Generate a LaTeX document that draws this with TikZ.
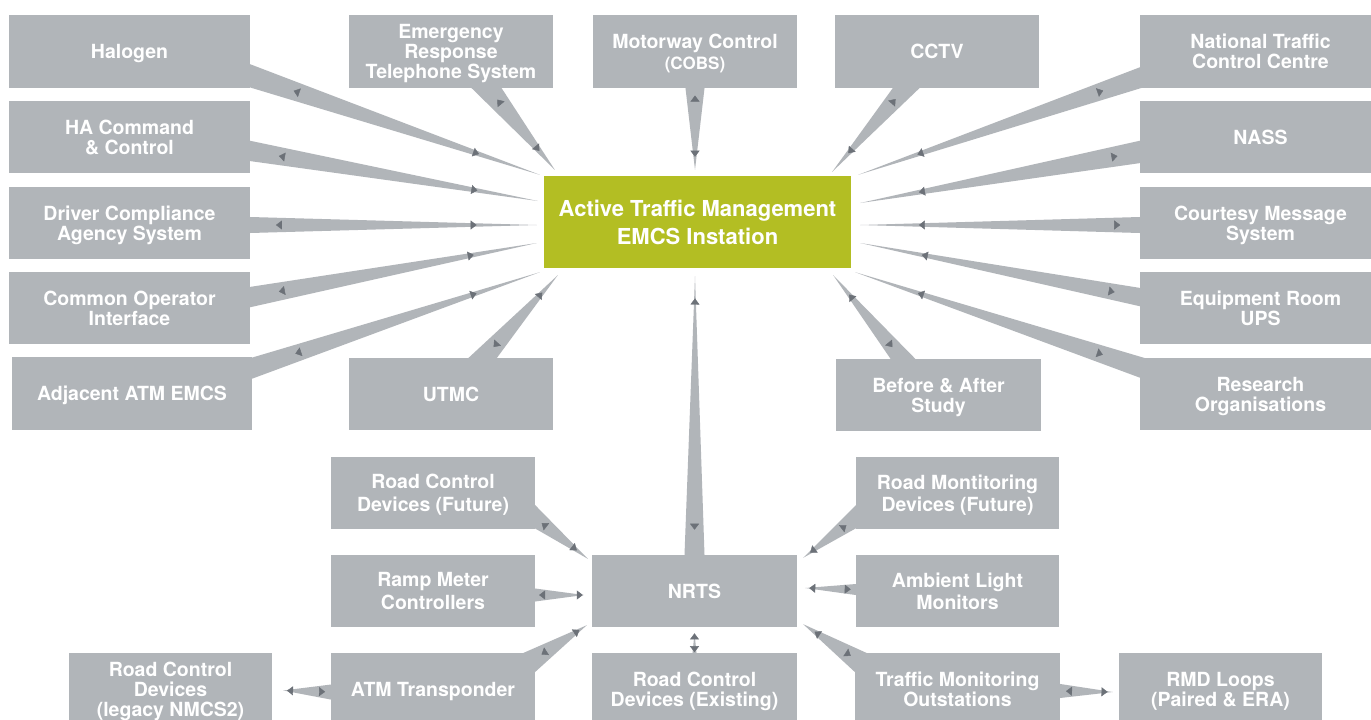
\documentclass[tikz,border=0pt]{standalone}
\usepackage{fontspec}
\setmainfont{TeX Gyre Heros}
\usetikzlibrary{calc,arrows.meta,decorations.markings}

\definecolor{boxgrey}{RGB}{177,181,185}
\definecolor{tipgrey}{RGB}{108,113,120}
\definecolor{hubgreen}{RGB}{179,190,35}

\pgfdeclarelayer{spokes}
\pgfsetlayers{spokes,main}

\tikzset{
  spoketip/.tip={Triangle[length=6pt,width=9pt,color=tipgrey,fill=tipgrey]},
  box/.style 2 args={fill=boxgrey, text=white, inner sep=0pt, align=center,
    minimum width=#1, minimum height=#2, text depth=0pt,
    font=\bfseries\fontsize{19.5}{20}\selectfont},
  loose/.style={font=\bfseries\fontsize{19.5}{22.5}\selectfont},
  hub/.style={fill=hubgreen, text=white, inner sep=0pt, align=center,
    minimum width=307pt, minimum height=92pt,
    font=\bfseries\fontsize{22}{28}\selectfont},
}

% tapered link: base (#1-b) on the source box, point (#1-t) at the target,
% half width #2 at the base, small heads at positions #3 and #4
\newcommand\spoke[4]{%
  \coordinate (#1-l) at ($(#1-b)!#2!90:(#1-t)$);
  \coordinate (#1-r) at ($(#1-b)!#2!-90:(#1-t)$);
  \fill[boxgrey] (#1-l) -- (#1-t) -- (#1-r) -- ($(#1-r)!-18pt!(#1-t)$)
    -- ($(#1-l)!-18pt!(#1-t)$) -- cycle;
  \path[draw=tipgrey, fill=tipgrey, decorate, decoration={markings,
      mark=at position #3 with {\arrowreversed{spoketip}},
      mark=at position #4 with {\arrow{spoketip}}}] (#1-b) -- (#1-t);
}

\begin{document}
\begin{tikzpicture}[x=1pt, y=-1pt]
\useasboundingbox (0,0) rectangle (1371,720);

% central instation
\node[hub] (hub) at (697.5,222) {Active Traffic Management\\EMCS Instation};

% left column
\node[box={241pt}{73pt}] (halogen) at (129.5,51.5) {Halogen};
\node[box={241pt}{72pt}] (hacmd) at (129.5,137) {HA Command\\\& Control};
\node[box={241pt}{72pt}] (driver) at (129.5,223) {Driver Compliance\\Agency System};
\node[box={241pt}{72pt}] (coi) at (129.5,308) {Common Operator\\Interface};
\node[box={240pt}{73pt}] (adjacent) at (132,393.5) {Adjacent ATM EMCS};

% inner columns, upper half
\node[box={204pt}{73pt}] (erts) at (451,51.5) {Emergency\\Response\\Telephone System};
\node[box={204pt}{72pt}] (utmc) at (451,394) {UTMC};
\node[box={204pt}{73pt}, font=\bfseries\fontsize{19.5}{21}\selectfont] (mcobs) at (695,51.5) {Motorway Control\\{\fontsize{17}{21}\selectfont(COBS)}};
\node[box={204pt}{73pt}] (cctv) at (937,51.5) {CCTV};
\node[box={205pt}{72pt}] (before) at (938.5,395) {Before \& After\\Study};

% right column
\node[box={241pt}{73pt}] (ntcc) at (1260.5,51.5) {National Traffic\\Control Centre};
\node[box={241pt}{72pt}] (nass) at (1260.5,137) {NASS};
\node[box={241pt}{72pt}] (cms) at (1260.5,223) {Courtesy Message\\System};
\node[box={241pt}{72pt}] (ups) at (1260.5,308) {Equipment Room\\UPS};
\node[box={241pt}{72pt}] (research) at (1260.5,394) {Research\\Organisations};

% roadside network
\node[box={205pt}{72pt}] (nrts) at (694.5,591) {NRTS};
\node[box={204pt}{72pt}, loose] (rcfut) at (433,493) {Road Control\\Devices (Future)};
\node[box={204pt}{72pt}, loose] (ramp) at (433,591) {Ramp Meter\\Controllers};
\node[box={204pt}{73pt}] (atmt) at (433,689.5) {ATM Transponder};
\node[box={203pt}{73pt}] (legacy) at (170.5,689.5) {Road Control\\Devices\\(legacy NMCS2)};
\node[box={205pt}{73pt}] (rcex) at (694.5,689.5) {Road Control\\Devices (Existing)};
\node[box={203pt}{72pt}, loose] (rmfut) at (957.5,493) {Road Montitoring\\Devices (Future)};
\node[box={203pt}{72pt}, loose] (ambient) at (957.5,591) {Ambient Light\\Monitors};
\node[box={205pt}{73pt}] (tmo) at (957.5,689.5) {Traffic Monitoring\\Outstations};
\node[box={203pt}{73pt}] (rmd) at (1220.5,689.5) {RMD Loops\\(Paired \& ERA)};

\begin{pgfonlayer}{spokes}
\fill[white] (0,0) rectangle (1371,720);

% links into the instation
\coordinate (halogen-b) at ($(halogen.east)+(0,24.5)$);
\coordinate (halogen-t) at ($(hub.north west)+(-4,-1)$);
\spoke{halogen}{11pt}{0.15}{0.79}
\coordinate (hacmd-b) at ($(hacmd.east)+(0,14)$);
\coordinate (hacmd-t) at ($(hub.west)+(-6,-21)$);
\spoke{hacmd}{10pt}{0.10}{0.79}
\coordinate (driver-b) at ($(driver.east)+(0,2)$);
\coordinate (driver-t) at ($(hub.west)+(-7,3)$);
\spoke{driver}{8pt}{0.09}{0.79}
\coordinate (coi-b) at ($(coi.east)+(0,-11)$);
\coordinate (coi-t) at ($(hub.west)+(-7,21)$);
\spoke{coi}{10pt}{0.10}{0.78}
\coordinate (adjacent-b) at ($(adjacent.east)+(0,-25.5)$);
\coordinate (adjacent-t) at ($(hub.south west)+(-4,4)$);
\spoke{adjacent}{10pt}{0.15}{0.78}
\coordinate (utmc-b) at ($(utmc.north)+(33,0)$);
\coordinate (utmc-t) at ($(hub.south west)+(14,7)$);
\spoke{utmc}{10.5pt}{0.13}{0.79}
\coordinate (erts-b) at ($(erts.south)+(37,0)$);
\coordinate (erts-t) at ($(hub.north west)+(11,-6)$);
\spoke{erts}{11.5pt}{0.14}{0.77}
\coordinate (mcobs-b) at (mcobs.south);
\coordinate (mcobs-t) at ($(hub.north)+(-2.5,-6)$);
\spoke{mcobs}{9.5pt}{0.09}{0.84}
\coordinate (cctv-b) at ($(cctv.south)+(-32,0)$);
\coordinate (cctv-t) at ($(hub.north east)+(-19,-4)$);
\spoke{cctv}{10pt}{0.13}{0.78}
\coordinate (ntcc-b) at ($(ntcc.west)+(0,26.5)$);
\coordinate (ntcc-t) at ($(hub.north east)+(7,-1)$);
\spoke{ntcc}{10pt}{0.13}{0.79}
\coordinate (nass-b) at ($(nass.west)+(0,15)$);
\coordinate (nass-t) at ($(hub.east)+(9,-19)$);
\spoke{nass}{11pt}{0.08}{0.79}
\coordinate (cms-b) at ($(cms.west)+(0,2)$);
\coordinate (cms-t) at ($(hub.east)+(9,3)$);
\spoke{cms}{8pt}{0.07}{0.79}
\coordinate (ups-b) at ($(ups.west)+(0,-11)$);
\coordinate (ups-t) at ($(hub.east)+(9,21)$);
\spoke{ups}{9pt}{0.09}{0.78}
\coordinate (research-b) at ($(research.west)+(0,-27)$);
\coordinate (research-t) at ($(hub.south east)+(4,4)$);
\spoke{research}{10pt}{0.13}{0.78}
\coordinate (before-b) at ($(before.north)+(-36.5,0)$);
\coordinate (before-t) at ($(hub.south east)+(-18,7)$);
\spoke{before}{9.5pt}{0.14}{0.77}
\coordinate (nrts-b) at (nrts.north);
\coordinate (nrts-t) at ($(hub.south)+(-2.5,8)$);
\spoke{nrts}{10pt}{0.09}{0.92}

% links into the NRTS
\coordinate (rcfut-b) at ($(rcfut.south east)+(-5,-15)$);
\coordinate (rcfut-t) at ($(nrts.north west)+(-4,4)$);
\spoke{rcfut}{10pt}{0.2}{0.81}
\coordinate (ramp-b) at ($(ramp.east)+(0,4)$);
\coordinate (ramp-t) at ($(nrts.west)+(-8,4)$);
\spoke{ramp}{6.5pt}{0.08}{0.98}
\coordinate (atmt-b) at ($(atmt.north east)+(-5,9)$);
\coordinate (atmt-t) at ($(nrts.south west)+(-5,-2)$);
\spoke{atmt}{11pt}{0.2}{0.87}
\coordinate (rcex-b) at (rcex.north);
\coordinate (rcex-t) at ($(nrts.south)+(0,6)$);
\spoke{rcex}{2pt}{0.03}{0.99}
\coordinate (rmfut-b) at ($(rmfut.south west)+(5,-15)$);
\coordinate (rmfut-t) at ($(nrts.north east)+(6,3)$);
\spoke{rmfut}{10pt}{0.25}{0.88}
\coordinate (ambient-b) at ($(ambient.west)+(0,-1.5)$);
\coordinate (ambient-t) at ($(nrts.east)+(8,-3)$);
\spoke{ambient}{5.5pt}{0.1}{0.92}
\coordinate (tmo-b) at ($(tmo.north west)+(5,9)$);
\coordinate (tmo-t) at ($(nrts.south east)+(6,-3)$);
\spoke{tmo}{11pt}{0.16}{0.8}

% outstation-level links
\coordinate (leg-b) at ($(atmt.west)+(0,2.5)$);
\coordinate (leg-t) at ($(legacy.east)+(11,1)$);
\spoke{leg}{7.5pt}{0.12}{0.92}
\coordinate (loops-b) at ($(tmo.east)+(0,1.5)$);
\coordinate (loops-t) at ($(rmd.west)+(-6,2.5)$);
\spoke{loops}{7pt}{0.11}{0.9}
\end{pgfonlayer}
\end{tikzpicture}
\end{document}
